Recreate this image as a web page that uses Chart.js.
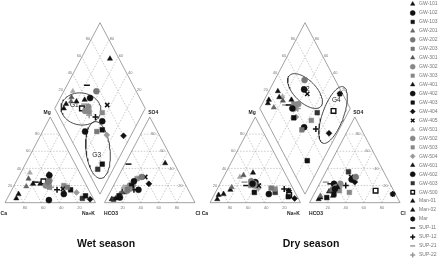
<!DOCTYPE html>
<html><head><meta charset="utf-8">
<script src="https://cdn.jsdelivr.net/npm/chart.js@4.4.0/dist/chart.umd.min.js"></script>
<style>html,body{margin:0;padding:0;background:#fff;overflow:hidden}canvas{display:block}</style>
</head><body>
<canvas id="c" width="443" height="259"></canvas>
<script>
// ---------------- DATA ----------------
const seriesNames = ['GW-101','GW-102','GW-103','GW-201','GW-202','GW-203','GW-301','GW-302','GW-303',
  'GW-401','GW-402','GW-403','GW-404','GW-405','GW-501','GW-502','GW-503','GW-504',
  'GW-601','GW-602','GW-603','GW-500','Man-01','Man-02','Mar','SUP-11','SUP-12','SUP-21','SUP-22'];

// Wet season (meq %)
const wetCa   = [35,35, 7,67,40,22,60,45,42,50,30,20, 4,28,55,38,25,15,80,50,12,45,85,58,null,54,35,48,40];
const wetMg   = [33,32, 8,19,24,18,28,20,18,22,10,15, 4,16,35,26,20,12,10, 3, 5,25, 5,22,null,24,15,22,18];
const wetNaK  = [32,33,85,14,36,60,12,35,40,28,60,65,92,56,10,36,55,73,10,47,83,30,10,20,null,22,50,30,42];
const wetHCO3 = [10,55,80,78,44,67,75,68,64,62,55,60,40,40,70,62,50,58,85,80,88,70,90,72,null,51,60,65,66];
const wetSO4  = [46,25, 8,10,30,15,12,14,16,18,15,20,22,30,18,20,28,20, 5, 6, 4,15, 4,12,null,45,15,20,16];
const wetCl   = [44,20,12,12,26,18,13,18,20,20,30,20,38,30,12,18,22,22,10,14, 8,15, 6,16,null, 4,25,15,18];

// Dry season (meq %)
const dryCa   = [35,42,45,67,42,24,47,40,45,70,38,10, 4,36,52,40,20,38,86,30,22, 8,90,80, 6,50,10,50,36];
const dryMg   = [35,22,12,18,25,17,32,22,20,15,24, 7, 5,20,30,20,16,17, 9,10,12, 9, 4,10,14,20,16,24,22];
const dryNaK  = [30,36,43,15,33,59,21,38,35,15,38,83,91,44,18,40,64,45, 5,60,66,83, 6,10,80,30,74,26,42];
const dryHCO3 = [60,64,68,84,34,66,70,62,60,72,40,78,38,39,68,55,50,65,85,62,39,20,88,70, 3,66,50,70,58];
const drySO4  = [18,16,10, 8,30,16,14,18,14,13,27, 6,24,30,12,22,12,15, 6,22,36,14, 4, 8,10,22,20,24,18];
const dryCl   = [22,20,22, 8,36,18,16,20,26,15,33,16,38,31,20,23,38,20, 9,16,25,66, 8,22,87,12,30, 6,24];

const gridTicks = [20, 40, 60, 80];
const seasonTitles = ['Wet season', 'Dry season'];
const groupNames = ['G1', 'G3', 'G2', 'G4'];

// ---------------- STYLES / LAYOUT ----------------
const seriesStyles = [
  ['triangle','#111'],['circle','#111'],['rect','#111'],
  ['triangle','#666'],['circle','#777'],['rect','#777'],
  ['triangle','#555'],['circle','#888'],['rect','#888'],
  ['triangle','#111'],['circle','#111'],['rect','#111'],
  ['rectRot','#111'],['crossRot','#111'],
  ['triangle','#aaa'],['circle','#888'],['rect','#888'],['rectRot','#999'],
  ['triangle','#111'],['circle','#111'],['rect','#333'],
  ['hollow','#111'],['triangle','#111'],['triangle','#111'],['star','#111'],
  ['line','#111'],['cross','#111'],['line','#999'],['cross','#999']
];
const S3 = Math.sqrt(3) / 2;
const GAP = 10;
const OFFSETS = [0, 226.6];
const X_MIN = -5.53, X_MAX = 484.1, Y_MIN = -56.9, Y_MAX = 204.8;
const PXU = 443 / (X_MAX - X_MIN), PYU = 259 / (Y_MAX - Y_MIN);
// ellipse annotations: diagram index, centre (piper units), semi-axes (px), angle (deg)
const groupShapes = [
  {d:0, cx:84,  cy:94.7,  a:20, b:16, ang:-8,  lx:76.6,  ly:98.7},
  {d:0, cx:102.8, cy:53.2, a:28.5, b:12, ang:96, lx:101.3, ly:48.2},
  {d:1, cx:105, cy:112.8, a:22, b:11, ang:-45, lx:105.4, ly:114.6},
  {d:1, cx:136, cy:88.6,  a:30, b:10.5, ang:70, lx:139.6, ly:103.1}
];
const LEGEND = {x: 412.7, tx: 419, y0: 4, step: 8.96, r: 2.5};

// ---------------- GEOMETRY ----------------
function cationPt(ca, mg, nak, off) {
  const t = ca + mg + nak; const m = mg / t * 100, n = nak / t * 100;
  return {x: off + n + m / 2, y: m * S3};
}
function anionPt(h, s, c, off) {
  const t = h + s + c; const so = s / t * 100, cl = c / t * 100;
  return {x: off + 100 + GAP + cl + so / 2, y: so * S3};
}
function diamondPt(ca, mg, nak, h, s, c, off) {
  const A = (ca + mg) / (ca + mg + nak) * 100, B = (s + c) / (h + s + c) * 100;
  return {x: off + 100 + GAP / 2 + (B - A) / 2, y: GAP * S3 + (A + B) * S3};
}
const GAPPT = {x: null, y: null};

const frame = [], grid = [];
OFFSETS.forEach(off => {
  const H = 100 * S3;
  frame.push({x:off,y:0},{x:off+100,y:0},{x:off+50,y:H},{x:off,y:0},GAPPT);
  frame.push({x:off+110,y:0},{x:off+210,y:0},{x:off+160,y:H},{x:off+110,y:0},GAPPT);
  frame.push({x:off+105,y:GAP*S3},{x:off+155,y:(100+GAP)*S3},{x:off+105,y:(200+GAP)*S3},{x:off+55,y:(100+GAP)*S3},{x:off+105,y:GAP*S3},GAPPT);
  [0, 110].forEach(b => {
    gridTicks.forEach(k => {
      grid.push({x:off+b+k/2,y:k*S3},{x:off+b+100-k/2,y:k*S3},GAPPT);
      grid.push({x:off+b+k,y:0},{x:off+b+k+(100-k)/2,y:(100-k)*S3},GAPPT);
      grid.push({x:off+b+100-k,y:0},{x:off+b+(100-k)/2,y:(100-k)*S3},GAPPT);
    });
  });
  gridTicks.forEach(k => {
    grid.push({x:off+105-k/2,y:GAP*S3+k*S3},{x:off+105+(100-k)/2,y:GAP*S3+(k+100)*S3},GAPPT);
    grid.push({x:off+105+k/2,y:GAP*S3+k*S3},{x:off+105-(100-k)/2,y:GAP*S3+(k+100)*S3},GAPPT);
  });
});

const ellipses = [];
groupShapes.forEach(g => {
  const off = OFFSETS[g.d], phi = g.ang * Math.PI / 180;
  for (let i = 0; i <= 72; i++) {
    const t = i / 72 * 2 * Math.PI;
    const dx = g.a * Math.cos(t) * Math.cos(phi) - g.b * Math.sin(t) * Math.sin(phi);
    const dy = g.a * Math.cos(t) * Math.sin(phi) + g.b * Math.sin(t) * Math.cos(phi);
    ellipses.push({x: off + g.cx + dx / PXU, y: g.cy + dy / PYU});
  }
  ellipses.push(GAPPT);
});

const seasons = [
  [wetCa, wetMg, wetNaK, wetHCO3, wetSO4, wetCl],
  [dryCa, dryMg, dryNaK, dryHCO3, drySO4, dryCl]
];

const datasets = [];
seriesNames.forEach((name, i) => {
  const pts = [];
  seasons.forEach((s, si) => {
    const off = OFFSETS[si];
    const ca = s[0][i], mg = s[1][i], nak = s[2][i], h = s[3][i], so = s[4][i], cl = s[5][i];
    if (ca === null || h === null) return;
    pts.push(cationPt(ca, mg, nak, off));
    pts.push(anionPt(h, so, cl, off));
    pts.push(diamondPt(ca, mg, nak, h, so, cl, off));
  });
  const [style, col] = seriesStyles[i];
  const strokeOnly = ['crossRot','cross','star','line'].includes(style);
  const ds = {
    label: name, data: pts, isSeries: true, order: 0, showLine: false,
    pointStyle: style === 'hollow' ? 'rect' : style,
    pointRadius: style === 'rect' || style === 'hollow' ? 3.3 : 3,
    backgroundColor: style === 'hollow' ? '#fff' : col,
    borderColor: col,
    borderWidth: style === 'hollow' ? 1.4 : (strokeOnly ? 1.5 : 0.5)
  };
  ds.pointBackgroundColor = ds.backgroundColor;
  ds.pointBorderColor = ds.borderColor;
  ds.pointBorderWidth = ds.borderWidth;
  datasets.push(ds);
});
datasets.push({label:'ellipses', data: ellipses, showLine:true, borderColor:'#333', borderWidth:0.9, pointRadius:0, order:5, tension:0});
datasets.push({label:'frame', data: frame, showLine:true, borderColor:'#8a8a8a', borderWidth:0.8, pointRadius:0, order:20});
datasets.push({label:'grid', data: grid, showLine:true, borderColor:'#b5b5b5', borderWidth:0.7, borderDash:[1.5,1.5], pointRadius:0, order:21});

// ---------------- TEXT PLUGIN ----------------
const FONT = 'Liberation Sans, Arial, sans-serif';
const textPlugin = {
  id: 'piperText',
  afterDraw(chart) {
    const ctx = chart.ctx, xs = chart.scales.x, ys = chart.scales.y;
    const P = (u, v) => ({x: xs.getPixelForValue(u), y: ys.getPixelForValue(v)});
    const txt = (s, x, y, font, color, align) => {
      ctx.font = font; ctx.fillStyle = color; ctx.textAlign = align || 'center'; ctx.textBaseline = 'middle';
      ctx.fillText(s, x, y);
    };
    ctx.save();
    OFFSETS.forEach((off, di) => {
      const tf = '4px ' + FONT, tc = '#777';
      gridTicks.forEach(k => {
        let p = P(off + k / 2, k * S3); txt(String(k), p.x - 4, p.y, tf, tc);
        p = P(off + 210 - k / 2, k * S3); txt(String(k), p.x - 5.5, p.y, tf, tc);
        p = P(off + k, 0); txt(String(100 - k), p.x + 2, p.y + 5, tf, tc);
        p = P(off + 110 + k, 0); txt(String(k), p.x, p.y + 5, tf, tc);
        p = P(off + 105 + (k - 100) / 2, GAP * S3 + (100 + k) * S3); txt(String(k), p.x - 3, p.y - 1, tf, tc);
        p = P(off + 105 + (100 - k) / 2, GAP * S3 + (100 + k) * S3); txt(String(k), p.x + 3, p.y - 1, tf, tc);
      });
      const af = 'bold 5px ' + FONT, ac = '#222';
      let p = P(off + 55, (100 + GAP) * S3); txt('Mg', p.x - 4, p.y + 4.5, af, ac, 'right');
      p = P(off + 155, (100 + GAP) * S3); txt('SO4', p.x + 3, p.y + 4.5, af, ac, 'left');
      p = P(off, 0); txt('Ca', Math.max(p.x - 2, 7), p.y + 11, af, ac, 'right');
      p = P(off + 100, 0); txt('Na+K', p.x - 7, p.y + 11, af, ac);
      p = P(off + 110, 0); txt('HCO3', p.x + 6.5, p.y + 11, af, ac);
      p = P(off + 210, 0); txt('Cl', p.x + 0.5, p.y + 11, af, ac, 'left');
      p = P(off + 105, 0);
      txt(seasonTitles[di], p.x + 6, 244, 'bold 10.5px ' + FONT, '#111');
    });
    groupShapes.forEach((g, gi) => {
      const p = P(OFFSETS[g.d] + g.lx, g.ly);
      txt(groupNames[gi], p.x, p.y, '6.5px ' + FONT, '#222');
    });
    // legend
    const items = chart.data.datasets.filter(d => d.isSeries);
    items.forEach((ds, i) => {
      const y = LEGEND.y0 + i * LEGEND.step;
      ctx.fillStyle = ds.backgroundColor; ctx.strokeStyle = ds.borderColor; ctx.lineWidth = ds.borderWidth;
      ctx.setLineDash([]);
      Chart.helpers.drawPoint(ctx, {pointStyle: ds.pointStyle, radius: LEGEND.r, borderWidth: ds.borderWidth, rotation: 0}, LEGEND.x, y);
      txt(ds.label, LEGEND.tx, y, '5px ' + FONT, '#777', 'left');
    });
    ctx.restore();
  }
};

new Chart(document.getElementById('c'), {
  type: 'scatter',
  data: {datasets},
  options: {
    responsive: false, animation: false, devicePixelRatio: 1, events: [],
    layout: {padding: 0, autoPadding: false},
    plugins: {legend: {display: false}, tooltip: {enabled: false}, title: {display: false}},
    scales: {
      x: {type: 'linear', min: X_MIN, max: X_MAX, display: false, bounds: 'data'},
      y: {type: 'linear', min: Y_MIN, max: Y_MAX, display: false, bounds: 'data'}
    }
  },
  plugins: [textPlugin]
});
</script>
</body></html>
